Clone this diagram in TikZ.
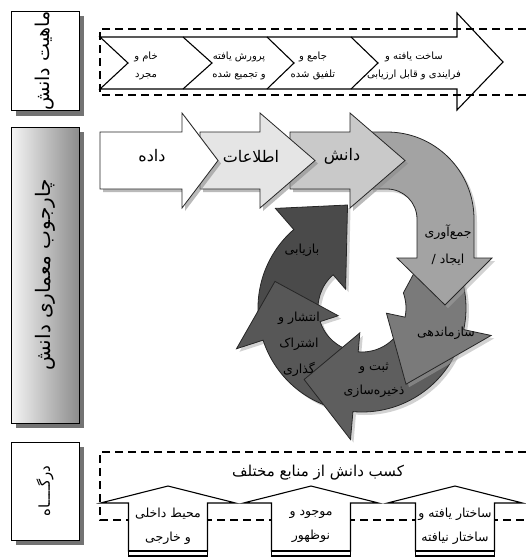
\documentclass[tikz,border=0pt]{standalone}
\usepackage{fontspec}
\newfontfamily\fafont[Script=Arabic]{DejaVu Sans}
\TeXXeTstate=1
\usetikzlibrary{shadows}

\newcommand{\rl}[1]{\beginR #1\endR}

\colorlet{infofill}{black!10}
\colorlet{knowfill}{black!21}
\colorlet{gatherfill}{black!36}
\colorlet{organizefill}{black!52}
\colorlet{storefill}{black!63}
\colorlet{sharefill}{black!66}
\colorlet{retrievefill}{black!71}

\begin{document}
\begin{tikzpicture}[x=1pt, y=-1pt,
    sidebox/.style={draw, line width=1pt, fill=white, minimum width=68pt, inner sep=0pt,
      drop shadow={shadow xshift=5pt, shadow yshift=-5pt, fill=black!55, opacity=1}},
    sidetext/.style={font=\fafont\fontsize{19}{22}\selectfont},
    fatext/.style={font=\fafont\fontsize{10}{18}\selectfont, inner sep=0pt, align=center},
    bigtext/.style={font=\fafont\fontsize{16}{18}\selectfont, inner sep=0pt},
    ringtext/.style={font=\fafont\fontsize{12.5}{27}\selectfont, inner sep=0pt, align=center, text=black},
    flow/.style={draw, line width=1.1pt, fill=white, line join=miter},
    dotline/.style={dash pattern=on 8pt off 5pt, line width=1.3pt},
    midarrow/.style={draw=black!85, line width=0.8pt,
      drop shadow={shadow xshift=3pt, shadow yshift=-3pt, fill=black!45, opacity=0.6}},
    ringarrow/.style={draw=black!85, line width=0.8pt,
      drop shadow={shadow xshift=3pt, shadow yshift=-3pt, fill=black!35, opacity=0.5}}]
  \useasboundingbox (0,0) rectangle (526,558);

  %%%%%%%%%%%%% side labels
  \node[sidebox, sidetext, minimum height=94pt] (mahiyat) at (45,61) {\rotatebox{90}{\rl{ماهیت دانش}}};
  \node[sidebox, sidetext, minimum height=296pt, left color=black!4, right color=black!45] (charchub) at (45,275)
    {\rotatebox{90}{\fontsize{20}{22}\selectfont\rl{چارجوب معماری دانش}}};
  \node[sidebox, sidetext, minimum height=98pt] (dargah) at (45,491) {\rotatebox{90}{\fontsize{15}{18}\selectfont\rl{درگــــاه}}};

  %%%%%%%%%%%%% top row
  \draw[flow] (100,37) -- (457,37) -- (457,13) -- (503,62) -- (457,110) -- (457,89) -- (100,89) -- (128,63) -- cycle;
  \draw[flow] (183,37) -- (212,63) -- (183,89);
  \draw[flow] (267,37) -- (294,63) -- (267,89);
  \draw[flow] (351,37) -- (378,63) -- (351,89);
  \draw[dotline] (526,29) -- (100,29) -- (100,95) -- (526,95);
  \node[fatext] (kham) at (146,66) {\rl{خام و}\\\rl{مجرد}};
  \node[fatext] (parvaresh) at (239,66) {\rl{پرورش یافته}\\\rl{و تجمیع شده}};
  \node[fatext] (jame) at (313,66) {\rl{جامع و}\\\rl{تلفیق شده}};
  \node[fatext] (sakht) at (414,66) {\rl{ساخت یافته و}\\\rl{فرایندی و قابل ارزیابی}};

  %%%%%%%%%%%%% cycle
  \begin{scope}[shift={(362,308)}]
    \draw[ringarrow, fill=retrievefill] (167:104) arc[start angle=167, end angle=229, radius=104]
      -- (229:132) -- (262:104) -- (229:25) -- (229:44) arc[start angle=229, end angle=167, radius=44] -- cycle;
    \draw[ringarrow, fill=sharefill] (100:104) arc[start angle=100, end angle=162, radius=104]
      -- (162:132) -- (197:91) -- (162:25) -- (162:44) arc[start angle=162, end angle=100, radius=44] -- cycle;
    \draw[ringarrow, fill=storefill] (25:104) arc[start angle=25, end angle=95, radius=104]
      -- (95:132) -- (129:92) -- (95:25) -- (95:44) arc[start angle=95, end angle=25, radius=44] -- cycle;
    \draw[ringarrow, fill=organizefill] (58,-46) -- (-30:104) arc[start angle=-30, end angle=12, radius=104]
      -- (12:132) -- (60:88) -- (12:25) -- (12:44) arc[start angle=12, end angle=-20, radius=44] -- cycle;
  \end{scope}
  \draw[ringarrow, fill=gatherfill] (370,132) -- (387,132) arc[start angle=270, end angle=360, radius=87]
    -- (474,258) -- (492,258) -- (445,305) -- (397,258) -- (417,258) -- (417,219)
    arc[start angle=0, end angle=-90, radius=30] -- (370,189) -- cycle;

  %%%%%%%%%%%%% data -> information -> knowledge
  \draw[midarrow, fill=knowfill] (290,132) -- (350,132) -- (350,113) -- (405,160.5) -- (350,208) -- (350,189) -- (290,189) -- cycle;
  \draw[midarrow, fill=infofill] (200,132) -- (260,132) -- (260,113) -- (315,160.5) -- (260,208) -- (260,189) -- (200,189) -- cycle;
  \draw[midarrow, fill=white] (100,132) -- (182,132) -- (182,113) -- (218,160.5) -- (182,208) -- (182,189) -- (100,189) -- cycle;
  \node[bigtext] (dade) at (152,156) {\rl{داده}};
  \node[bigtext] (ettelaat) at (251,156) {\rl{اطلاعات}};
  \node[bigtext] (danesh) at (342,156) {\rl{دانش}};

  \node[ringtext] (gather) at (448,245) {\rl{جمع‌آوری}\\\rl{ایجاد /}};
  \node[ringtext] (organize) at (446,333) {\rl{سازماندهی}};
  \node[ringtext, font=\fafont\fontsize{12.5}{24}\selectfont] (store) at (374,380) {\rl{ثبت و}\\\rl{ذخیره‌سازی}};
  \node[ringtext, font=\fafont\fontsize{12.5}{26}\selectfont] (share) at (299,344) {\rl{انتشار و}\\\rl{اشتراک}\\\rl{گذاری}};
  \node[ringtext] (retrieve) at (302,250) {\rl{بازیابی}};

  %%%%%%%%%%%%% portal
  \draw[dotline] (526,452) -- (100,452) -- (100,520) -- (526,520);
  \node[fatext, font=\fafont\fontsize{15}{18}\selectfont] (kasb) at (318,473) {\rl{کسب دانش از منابع مختلف}};
  \draw[flow] (128.5,551) -- (128.5,503) -- (100.5,503) -- (168,486) -- (235.5,503) -- (207.5,503) -- (207.5,551) -- cycle;
  \draw[flow] (128.5,551) rectangle (207.5,556);
  \draw[flow] (271.5,551) -- (271.5,503) -- (243.5,503) -- (311,486) -- (378.5,503) -- (350.5,503) -- (350.5,551) -- cycle;
  \draw[flow] (271.5,551) rectangle (350.5,556);
  \draw[flow] (415.5,551) -- (415.5,503) -- (387.5,503) -- (455,486) -- (522.5,503) -- (494.5,503) -- (494.5,551) -- cycle;
  \draw[flow] (415.5,551) rectangle (494.5,556);
  \node[fatext, font=\fafont\fontsize{12.5}{24}\selectfont] (mohit) at (168,526) {\rl{محیط داخلی}\\\rl{و خارجی}};
  \node[fatext, font=\fafont\fontsize{12.5}{24}\selectfont] (mojud) at (311,526) {\rl{موجود و}\\\rl{نوظهور}};
  \node[fatext, font=\fafont\fontsize{12.5}{24}\selectfont] (sakhtar) at (455,526) {\rl{ساختار یافته و}\\\rl{ساختار نیافته}};
\end{tikzpicture}
\end{document}
